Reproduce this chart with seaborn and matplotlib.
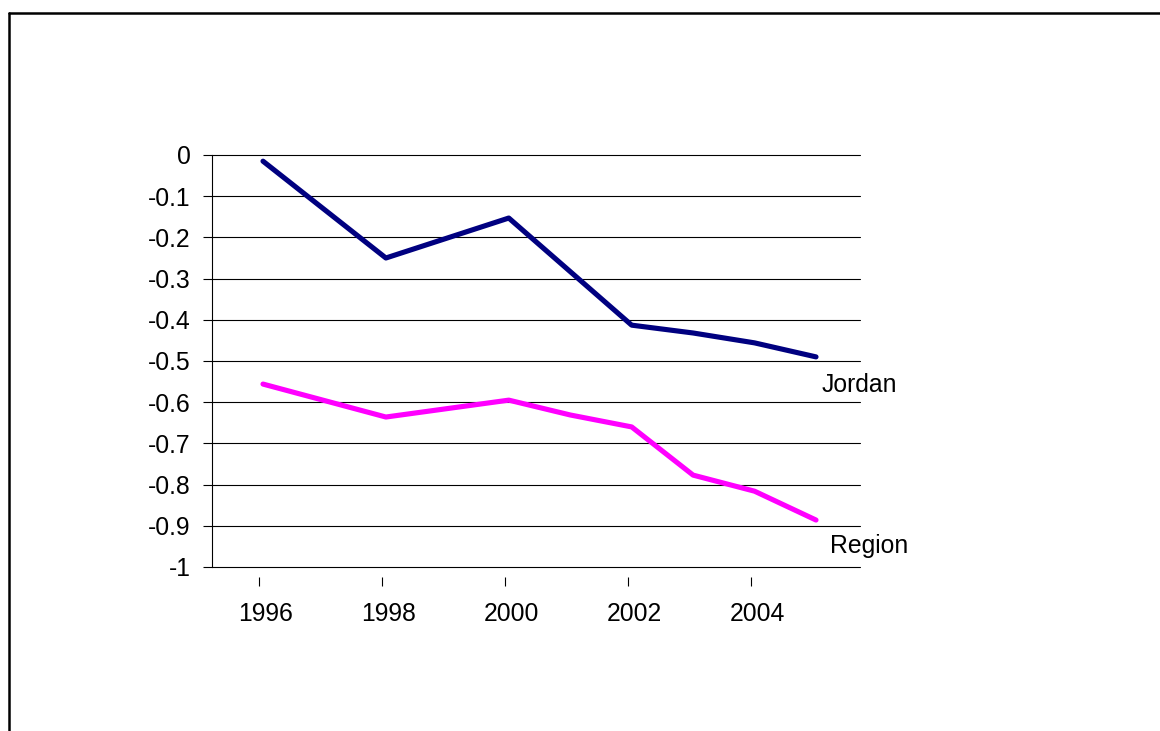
import numpy as np
import pandas as pd
import matplotlib
matplotlib.use("Agg")
import matplotlib.pyplot as plt
from matplotlib.lines import Line2D
from matplotlib.transforms import ScaledTranslation
import seaborn as sns

# ---- data ----
jordan_years = [1996, 1998, 2000, 2002, 2003, 2004, 2005]
jordan_values = [-0.015, -0.25, -0.153, -0.413, -0.432, -0.456, -0.49]
region_years = [1996, 1998, 2000, 2001, 2002, 2003, 2004, 2005]
region_values = [-0.556, -0.636, -0.595, -0.631, -0.66, -0.777, -0.816, -0.886]
series_names = ["Jordan", "Region"]
x_tick_years = [1996, 1998, 2000, 2002, 2004]
y_ticks = [0, -0.1, -0.2, -0.3, -0.4, -0.5, -0.6, -0.7, -0.8, -0.9, -1]
y_tick_labels = ["0", "-0.1", "-0.2", "-0.3", "-0.4", "-0.5", "-0.6", "-0.7", "-0.8", "-0.9", "-1"]

df = pd.concat([
    pd.DataFrame({"year": jordan_years, "value": jordan_values, "series": series_names[0]}),
    pd.DataFrame({"year": region_years, "value": region_values, "series": series_names[1]}),
], ignore_index=True)

sns.set_theme(style="white")
plt.rcParams["font.family"] = ["Liberation Sans", "DejaVu Sans"]

FS = 17.8
fig = plt.figure(figsize=(11.6, 7.31), dpi=100)
ax = fig.add_axes([212 / 1160, 1 - 567 / 731, (860 - 212) / 1160, (567 - 155) / 731])

palette = {"Jordan": "#000080", "Region": "#FF00FF"}
sns.lineplot(data=df, x="year", y="value", hue="series", palette=palette,
             linewidth=3.7, ax=ax, legend=False, sort=True)
for ln in ax.get_lines():
    ln.set_solid_capstyle("round")
    ln.set_solid_joinstyle("round")

ax.set_xlim(1995.170, 2005.716)
ax.set_ylim(-1, 0)

# horizontal gridlines (including the bottom axis line at -1)
for yv in y_ticks:
    ax.axhline(yv, color="black", linewidth=0.8, zorder=0.5, clip_on=False)

ax.set_yticks(y_ticks)
ax.set_yticklabels(y_tick_labels)
# labels on major ticks, tick marks drawn as minor ticks sitting slightly left (as in the reference)
ax.set_xticks(x_tick_years)
ax.set_xticklabels([str(y) for y in x_tick_years])
ax.set_xticks([y - 0.065 for y in x_tick_years], minor=True)

for s in ["top", "right"]:
    ax.spines[s].set_visible(False)
ax.spines["left"].set_color("black")
ax.spines["left"].set_linewidth(0.8)
ax.spines["bottom"].set_position(("outward", 7))
ax.spines["bottom"].set_visible(False)

ax.tick_params(axis="y", direction="out", length=6.5, width=0.8, color="black",
               pad=9, labelsize=FS, labelcolor="black", left=True)
ax.tick_params(axis="x", which="major", length=0, pad=18.2,
               labelsize=FS, labelcolor="black", bottom=True)
ax.tick_params(axis="x", which="minor", direction="out", length=6.5, width=0.8,
               color="black", bottom=True)
for lab in ax.get_xticklabels():
    lab.set_transform(lab.get_transform() + ScaledTranslation(3 / 100, 0, fig.dpi_scale_trans))
ax.set_xlabel("")
ax.set_ylabel("")

# series labels at the end of each line
ax.annotate("Jordan", xy=(jordan_years[-1], jordan_values[-1]), xytext=(4, -20),
            textcoords="offset points", ha="left", va="center", fontsize=FS, color="black")
ax.annotate("Region", xy=(region_years[-1], region_values[-1]), xytext=(9.8, -19),
            textcoords="offset points", ha="left", va="center", fontsize=FS, color="black")

# outer chart frame (top and left edges visible in crop)
fig.add_artist(Line2D([8.5 / 1160, 1.0], [1 - 12.5 / 731, 1 - 12.5 / 731],
                      transform=fig.transFigure, color="black", linewidth=1.8))
fig.add_artist(Line2D([8.5 / 1160, 8.5 / 1160], [0.0, 1 - 12.5 / 731],
                      transform=fig.transFigure, color="black", linewidth=1.8))

fig.savefig("out.png", dpi=100, facecolor="white")
